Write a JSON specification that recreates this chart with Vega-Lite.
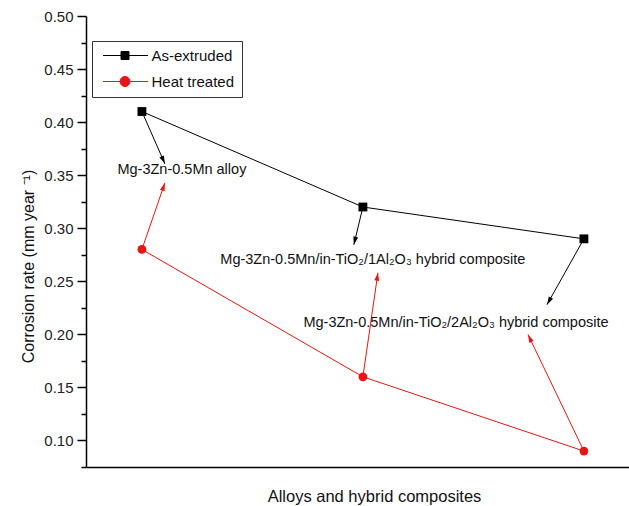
{
  "$schema": "https://vega.github.io/schema/vega-lite/v6.json",
  "width": 543,
  "height": 451,
  "autosize": {"type": "none"},
  "padding": {"left": 86, "top": 16, "right": 0, "bottom": 39},
  "background": "white",
  "config": {"view": {"stroke": null}, "font": "Liberation Sans"},
  "datasets": {
    "rates": [
      {"alloy": 1, "rate": 0.41, "treatment": "As-extruded"},
      {"alloy": 2, "rate": 0.32, "treatment": "As-extruded"},
      {"alloy": 3, "rate": 0.29, "treatment": "As-extruded"},
      {"alloy": 1, "rate": 0.28, "treatment": "Heat treated"},
      {"alloy": 2, "rate": 0.16, "treatment": "Heat treated"},
      {"alloy": 3, "rate": 0.09, "treatment": "Heat treated"}
    ],
    "arrows": [
      {"x": 1.0, "y": 0.41, "x2": 1.104, "y2": 0.3607, "treatment": "As-extruded"},
      {"x": 1.0, "y": 0.28, "x2": 1.104, "y2": 0.3428, "treatment": "Heat treated"},
      {"x": 2.0, "y": 0.32, "x2": 1.959, "y2": 0.2845, "treatment": "As-extruded"},
      {"x": 2.0, "y": 0.16, "x2": 2.068, "y2": 0.2581, "treatment": "Heat treated"},
      {"x": 3.0, "y": 0.29, "x2": 2.833, "y2": 0.228, "treatment": "As-extruded"},
      {"x": 3.0, "y": 0.09, "x2": 2.747, "y2": 0.1998, "treatment": "Heat treated"}
    ],
    "labels": [
      {"x": 1.181, "y": 0.355, "text": "Mg-3Zn-0.5Mn alloy"},
      {"x": 2.045, "y": 0.2704, "text": "Mg-3Zn-0.5Mn/in-TiO₂/1Al₂O₃ hybrid composite"},
      {"x": 2.421, "y": 0.2111, "text": "Mg-3Zn-0.5Mn/in-TiO₂/2Al₂O₃ hybrid composite"}
    ]
  },
  "layer": [
    {
      "data": {"name": "rates"},
      "mark": {"type": "line", "strokeWidth": 1},
      "encoding": {
        "x": {
          "field": "alloy", "type": "quantitative",
          "scale": {"domain": [0.747, 3.204], "nice": false, "zero": false},
          "axis": {
            "title": "Alloys and hybrid composites",
            "ticks": false, "labels": false, "grid": false,
            "domainColor": "black", "domainWidth": 1.5,
            "titleFontSize": 16.5, "titleFontWeight": "normal", "titleColor": "#111",
            "titleX": 288, "titleY": 29, "titleBaseline": "middle"
          }
        },
        "y": {
          "field": "rate", "type": "quantitative",
          "scale": {"domain": [0.075, 0.5], "nice": false, "zero": false},
          "axis": {
            "title": "Corrosion rate (mm year ⁻¹)",
            "values": [0.1, 0.15, 0.2, 0.25, 0.3, 0.35, 0.4, 0.45, 0.5],
            "format": ".2f",
            "tickSize": 9, "tickWidth": 1.5, "tickColor": "black",
            "domainColor": "black", "domainWidth": 1.5,
            "labelFontSize": 15, "labelColor": "#222", "labelPadding": 4,
            "grid": false,
            "titleFontSize": 16, "titleFontWeight": "normal", "titleColor": "#111",
            "titleX": -58, "titleY": 250, "titleBaseline": "middle"
          }
        },
        "color": {
          "field": "treatment", "type": "nominal",
          "scale": {"domain": ["As-extruded", "Heat treated"], "range": ["black", "#e81515"]},
          "legend": {
            "title": null, "orient": "none", "legendX": 6, "legendY": 25,
            "padding": 7, "strokeColor": "#333", "fillColor": "white",
            "labelFontSize": 15, "labelColor": "#111",
            "symbolSize": 100, "symbolOffset": 18.5, "labelOffset": 19, "rowPadding": 10,
            "encode": {
              "symbols": {
                "update": {
                  "strokeWidth": {"value": 1},
                  "opacity": {"value": 1}
                }
              }
            }
          }
        }
      }
    },
    {
      "data": {"name": "arrows"},
      "mark": {"type": "rule", "strokeWidth": 1},
      "encoding": {
        "x": {"field": "x", "type": "quantitative"},
        "y": {"field": "y", "type": "quantitative", "axis": null},
        "x2": {"field": "x2"},
        "y2": {"field": "y2"},
        "color": {"field": "treatment", "type": "nominal"}
      }
    },
    {
      "data": {"name": "arrows"},
      "mark": {
        "type": "point", "filled": true, "opacity": 1, "size": 49,
        "shape": "M0,0L-0.7,2.3L0.7,2.3Z",
        "angle": {"expr": "atan2(scale('x', datum.x2) - scale('x', datum.x), -(scale('y', datum.y2) - scale('y', datum.y))) * 180 / PI"}
      },
      "encoding": {
        "x": {"field": "x2", "type": "quantitative"},
        "y": {"field": "y2", "type": "quantitative", "axis": null},
        "color": {"field": "treatment", "type": "nominal"}
      }
    },
    {
      "data": {"name": "rates"},
      "mark": {"type": "point", "filled": true, "opacity": 0},
      "encoding": {
        "x": {"field": "alloy", "type": "quantitative"},
        "y": {"field": "rate", "type": "quantitative", "axis": null},
        "shape": {
          "field": "treatment", "type": "nominal",
          "scale": {"domain": ["As-extruded", "Heat treated"], "range": ["M-4.4,0H-0.8M0.8,0H4.6M-0.8,-0.8H0.8V0.8H-0.8Z", "M-4.4,0H-1M1,0H4.6M-1,0A1,1 0 1,0 1,0A1,1 0 1,0 -1,0Z"]},
          "legend": null
        },
        "color": {"field": "treatment", "type": "nominal"}
      }
    },
    {
      "data": {"name": "rates"},
      "mark": {
        "type": "point", "filled": true, "opacity": 1, "size": 78,
        "shape": {"expr": "datum.treatment === 'As-extruded' ? 'square' : 'circle'"}
      },
      "encoding": {
        "x": {"field": "alloy", "type": "quantitative"},
        "y": {"field": "rate", "type": "quantitative", "axis": null},
        "color": {"field": "treatment", "type": "nominal"}
      }
    },
    {
      "data": {"name": "labels"},
      "mark": {"type": "text", "fontSize": 14.5, "color": "#111", "align": "center", "baseline": "middle"},
      "encoding": {
        "x": {"field": "x", "type": "quantitative"},
        "y": {
          "field": "y", "type": "quantitative",
          "axis": {
            "orient": "left",
            "values": [0.075, 0.125, 0.175, 0.225, 0.275, 0.325, 0.375, 0.425, 0.475],
            "labels": false, "domain": false, "grid": false, "title": null,
            "tickSize": 5, "tickWidth": 1.5, "tickColor": "black"
          }
        },
        "text": {"field": "text"}
      }
    }
  ],
  "resolve": {"axis": {"y": "independent"}}
}
